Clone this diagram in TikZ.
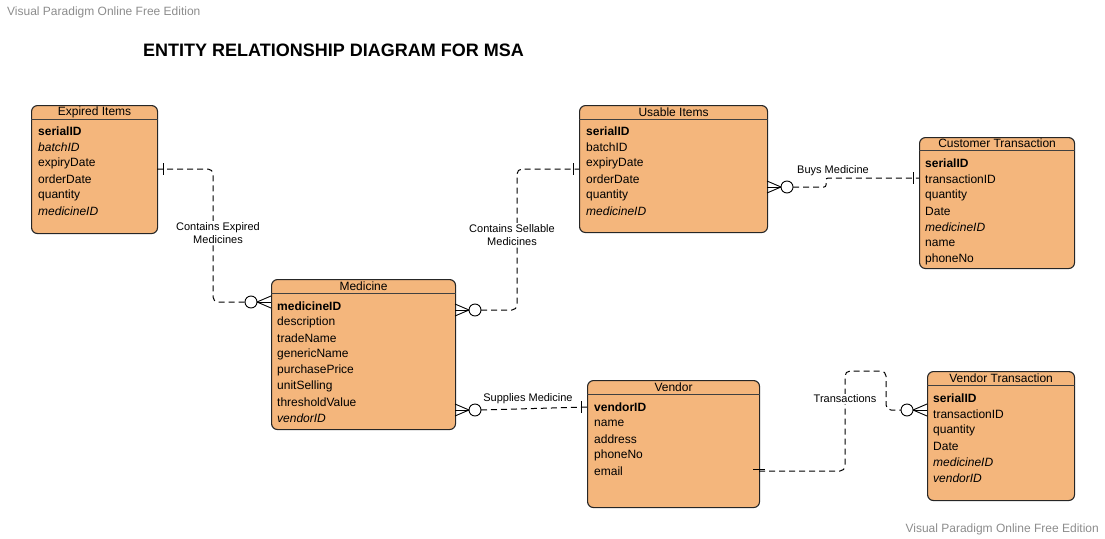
\documentclass[tikz,border=0pt]{standalone}
\usepackage{fontspec}
\setmainfont{Liberation Sans}
\usetikzlibrary{calc}
\definecolor{entfill}{RGB}{244,182,124}
\definecolor{wmgray}{RGB}{140,140,140}
\def\zeromany(#1)(#2){\draw[markline,fill=white] ($(#1)+(#2*20,0)$) circle (6);
	\draw[markline] ($(#1)+(#2*14,0)$) -- ($(#1)+(0,-6)$);
	\draw[markline] ($(#1)+(#2*14,0)$) -- (#1);
	\draw[markline] ($(#1)+(#2*14,0)$) -- ($(#1)+(0,6)$);}
\def\onemark(#1)(#2){\draw[markline] ($(#1)+(#2*6,-6)$) -- ($(#1)+(#2*6,6)$);}
\tikzset{
	entity/.style={draw=black!85,fill=entfill,rounded corners=6,line width=1.1pt,inner sep=0pt,anchor=north west},
	sepline/.style={draw=black!75,line width=1pt},
	hdr/.style={inner sep=0pt,font=\fontsize{12}{14}\selectfont},
	attr/.style={anchor=west,inner sep=0pt,font=\fontsize{12}{14}\selectfont},
	rel/.style={line width=1pt,dash pattern=on 6pt off 4pt,rounded corners=5},
	markline/.style={line width=0.9pt},
	lbl/.style={fill=white,inner sep=1pt,align=center,font=\fontsize{11}{13}\selectfont},
	wm/.style={inner sep=0pt,text=wmgray,font=\fontsize{12}{14}\selectfont},
	title/.style={inner sep=0pt,anchor=west,font=\fontsize{18}{21}\selectfont\bfseries}
}
\begin{document}
\begin{tikzpicture}[x=1pt,y=-1pt]
			%%%%% START %%%%%
			\def\rowh{16}
			\useasboundingbox (0,0) rectangle (1105,538);

			\node[wm,anchor=west] (wmtop) at (7,12) {Visual Paradigm Online Free Edition};
			\node[wm,anchor=east] (wmbot) at (1099,529) {Visual Paradigm Online Free Edition};
			\node[title] (title) at (143,50) {ENTITY RELATIONSHIP DIAGRAM FOR MSA};

			% entities
			\node[entity,minimum width=126,minimum height=128] (expired) at (31,105) {};
			\node[entity,minimum width=188,minimum height=127] (usable) at (579,105) {};
			\node[entity,minimum width=155,minimum height=131] (customer) at (919,137) {};
			\node[entity,minimum width=184,minimum height=150] (medicine) at (271,279) {};
			\node[entity,minimum width=172,minimum height=127] (vendor) at (587,380) {};
			\node[entity,minimum width=147,minimum height=129] (vtrans) at (927,371) {};

			\draw[sepline] ($(expired.north west)+(0,14)$) -- ($(expired.north east)+(0,14)$);
			\draw[sepline] ($(usable.north west)+(0,14)$) -- ($(usable.north east)+(0,14)$);
			\draw[sepline] ($(customer.north west)+(0,13)$) -- ($(customer.north east)+(0,13)$);
			\draw[sepline] ($(medicine.north west)+(0,14)$) -- ($(medicine.north east)+(0,14)$);
			\draw[sepline] ($(vendor.north west)+(0,14)$) -- ($(vendor.north east)+(0,14)$);
			\draw[sepline] ($(vtrans.north west)+(0,14)$) -- ($(vtrans.north east)+(0,14)$);

			\node[hdr] (expiredT) at ($(expired.north)+(0,7)$) {Expired Items};
			\node[hdr] (usableT) at ($(usable.north)+(0,7)$) {Usable Items};
			\node[hdr] (customerT) at ($(customer.north)+(0,6.5)$) {Customer Transaction};
			\node[hdr] (medicineT) at ($(medicine.north)+(0,7)$) {Medicine};
			\node[hdr] (vendorT) at ($(vendor.north)+(0,7)$) {Vendor};
			\node[hdr] (vtransT) at ($(vtrans.north)+(0,7)$) {Vendor Transaction};

			% attributes
			\foreach \t [count=\i] in {\textbf{serialID},\textit{batchID},expiryDate,orderDate,quantity,\textit{medicineID}}
				\node[attr] (expA\i) at (38,115+\rowh*\i) {\t};
			\foreach \t [count=\i] in {\textbf{serialID},batchID,expiryDate,orderDate,quantity,\textit{medicineID}}
				\node[attr] (usaA\i) at (586,115+\rowh*\i) {\t};
			\foreach \t [count=\i] in {\textbf{serialID},transactionID,quantity,Date,\textit{medicineID},name,phoneNo}
				\node[attr] (cusA\i) at (925,147+\rowh*\i) {\t};
			\foreach \t [count=\i] in {\textbf{medicineID},description,tradeName,genericName,purchasePrice,unitSelling,thresholdValue,\textit{vendorID}}
				\node[attr] (medA\i) at (277,290+\rowh*\i) {\t};
			\foreach \t [count=\i] in {\textbf{vendorID},name,address,phoneNo,email}
				\node[attr] (venA\i) at (594,391+\rowh*\i) {\t};
			\foreach \t [count=\i] in {\textbf{serialID},transactionID,quantity,Date,\textit{medicineID},\textit{vendorID}}
				\node[attr] (vtrA\i) at (933,382+\rowh*\i) {\t};

			% connector ends
			\coordinate (expR) at (157,169);
			\coordinate (medL) at (271,302);
			\coordinate (medR1) at (455,310);
			\coordinate (usaL) at (579,169);
			\coordinate (usaR) at (767,187);
			\coordinate (cusL) at (919,178);
			\coordinate (medR2) at (455,410);
			\coordinate (venL) at (587,407);
			\coordinate (venR) at (759,471);
			\coordinate (vtrL) at (927,410);

			% relationships
			\draw[rel] (expR) -| ($(medL)+(-58,0)$) -- ($(medL)+(-26,0)$);
			\onemark(expR)(1)
			\zeromany(medL)(-1)
			\node[lbl] (l1) at (218,233) {Contains Expired\\Medicines};

			\draw[rel] ($(medR1)+(26,0)$) -- ($(medR1)+(62,0)$) |- (usaL);
			\zeromany(medR1)(1)
			\onemark(usaL)(-1)
			\node[lbl] (l2) at (512,235) {Contains Sellable\\Medicines};

			\draw[rel,rounded corners=2] ($(usaR)+(26,0)$) -- ($(usaR)+(59,0)$) |- (cusL);
			\zeromany(usaR)(1)
			\onemark(cusL)(-1)
			\node[lbl] (l3) at (833,171) {Buys Medicine};

			\draw[rel] ($(medR2)+(26,0)$) -- (venL);
			\zeromany(medR2)(1)
			\onemark(venL)(-1)
			\node[lbl] (l4) at (528,399) {Supplies Medicine};

			\draw[rel] (venR) -| ($(vtrL)+(-82,-39)$) -| ($(vtrL)+(-41,0)$) -- ($(vtrL)+(-26,0)$);
			\draw[markline] ($(venR)+(-6,-2)$) -- ($(venR)+(6,-2)$);
			\zeromany(vtrL)(-1)
			\node[lbl] (l5) at (845,399) {Transactions};
			%%%%% END %%%%%
\end{tikzpicture}
\end{document}
